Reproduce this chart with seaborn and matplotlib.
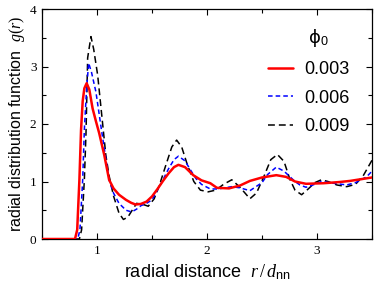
import numpy as np
import pandas as pd
import matplotlib
matplotlib.use("Agg")
import matplotlib.pyplot as plt
import seaborn as sns
from matplotlib.ticker import MultipleLocator

# g(r), one list pair per volume fraction
r_003 = [0.50, 0.80, 0.82, 0.84, 0.855, 0.87, 0.885, 0.906, 0.93, 0.96, 0.99, 1.02, 1.066,
         1.11, 1.15, 1.20, 1.264, 1.31, 1.35, 1.40, 1.45, 1.50, 1.55, 1.60, 1.65, 1.70,
         1.74, 1.80, 1.875, 1.95, 2.03, 2.09, 2.20, 2.30, 2.39, 2.50, 2.63, 2.72, 2.80,
         2.90, 3.06, 3.20, 3.30, 3.40, 3.50]
g_003 = [0.00, 0.00, 0.16, 1.03, 1.90, 2.40, 2.62, 2.71, 2.60, 2.27, 2.05, 1.84, 1.46,
         1.03, 0.88, 0.77, 0.68, 0.63, 0.60, 0.61, 0.65, 0.74, 0.87, 1.01, 1.14, 1.25,
         1.29, 1.25, 1.11, 1.02, 0.97, 0.89, 0.88, 0.93, 1.01, 1.07, 1.11, 1.08, 1.00,
         0.96, 0.97, 0.99, 1.01, 1.04, 1.07]

r_006 = [0.50, 0.825, 0.845, 0.87, 0.885, 0.905, 0.924, 0.95, 0.99, 1.045, 1.075, 1.11,
         1.15, 1.20, 1.264, 1.315, 1.36, 1.40, 1.45, 1.50, 1.55, 1.60, 1.65, 1.70, 1.74,
         1.80, 1.85, 1.90, 1.95, 2.03, 2.10, 2.225, 2.30, 2.39, 2.50, 2.55, 2.63, 2.70,
         2.80, 2.845, 2.90, 2.95, 3.04, 3.15, 3.27, 3.35, 3.45, 3.50]
g_006 = [0.00, 0.00, 0.16, 1.03, 1.90, 2.60, 3.06, 2.90, 2.56, 1.84, 1.46, 1.03,
         0.80, 0.62, 0.50, 0.47, 0.52, 0.58, 0.62, 0.68, 0.85, 1.03, 1.22, 1.38, 1.44,
         1.36, 1.20, 1.05, 0.95, 0.87, 0.87, 0.91, 0.89, 0.84, 0.98, 1.12, 1.25, 1.18,
         1.00, 0.94, 0.90, 0.93, 1.00, 0.97, 0.94, 0.98, 1.08, 1.18]

r_009 = [0.50, 0.84, 0.86, 0.885, 0.90, 0.915, 0.945, 0.97, 1.006, 1.06, 1.08, 1.11,
         1.15, 1.20, 1.24, 1.28, 1.32, 1.36, 1.42, 1.466, 1.52, 1.57, 1.62, 1.68, 1.724,
         1.77, 1.82, 1.88, 1.94, 2.01, 2.08, 2.15, 2.225, 2.30, 2.39, 2.45, 2.52, 2.58,
         2.64, 2.70, 2.755, 2.80, 2.86, 2.92, 2.98, 3.04, 3.10, 3.18, 3.27, 3.35, 3.42,
         3.50]
g_009 = [0.00, 0.00, 0.16, 1.03, 1.84, 3.15, 3.52, 3.30, 2.85, 1.84, 1.46, 1.10,
         0.75, 0.45, 0.34, 0.38, 0.50, 0.62, 0.60, 0.57, 0.70, 0.95, 1.25, 1.60, 1.72,
         1.60, 1.30, 1.00, 0.85, 0.82, 0.85, 0.95, 1.03, 0.90, 0.70, 0.80, 1.10, 1.38,
         1.47, 1.35, 1.03, 0.85, 0.77, 0.87, 0.98, 1.03, 1.00, 0.94, 0.91, 0.95, 1.10,
         1.37]

labels = ["0.003", "0.006", "0.009"]

sns.set_style("ticks", {"axes.labelcolor": "black", "text.color": "black",
                        "xtick.color": "black", "ytick.color": "black",
                        "axes.edgecolor": "black"})
plt.rcParams["font.family"] = ["Liberation Sans", "DejaVu Sans"]
plt.rcParams["mathtext.fontset"] = "custom"
plt.rcParams["mathtext.rm"] = "Liberation Serif"
plt.rcParams["mathtext.it"] = "Liberation Serif:italic"
plt.rcParams["mathtext.sf"] = "Liberation Sans"

fig = plt.figure(figsize=(3.74, 2.84), dpi=100)
ax = fig.add_axes([42 / 374, 45 / 284, 330 / 374, 230 / 284])

# (r, g, colour, dashes, linewidth, zorder)
series = [(r_003, g_003, "#ff0000", "", 1.8, 4),
          (r_006, g_006, "#0000ff", (3, 2), 1.1, 3),
          (r_009, g_009, "#000000", (4.5, 2.6), 1.1, 2)]
for (r, g, col, dash, lw, z), lab in zip(series, labels):
    df = pd.DataFrame({"r": r, "g": g})
    sns.lineplot(data=df, x="r", y="g", color=col, lw=lw, label=lab, zorder=z, ax=ax)
    if dash:
        ax.lines[-1].set_dashes(dash)

ax.set_xlim(0.5, 3.5)
ax.set_ylim(0, 4)
ax.xaxis.set_major_locator(MultipleLocator(1))
ax.xaxis.set_minor_locator(MultipleLocator(0.5))
ax.yaxis.set_major_locator(MultipleLocator(1))
ax.yaxis.set_minor_locator(MultipleLocator(0.5))
ax.tick_params(which="both", direction="in", top=True, right=True, width=0.8,
               labelsize=9.5, pad=4)
ax.tick_params(which="major", length=4)
ax.tick_params(which="minor", length=3)
for t in ax.get_xticklabels() + ax.get_yticklabels():
    t.set_fontfamily("Liberation Serif")
for s in ax.spines.values():
    s.set_linewidth(0.9)

ax.set_xlabel(r"radial distance  $r\,/\,d_{\mathsf{nn}}$", fontsize=13, labelpad=4)
ax.set_ylabel(r"radial distribution function  $g(r)$", fontsize=11.5, labelpad=2)

leg = ax.legend(loc="upper left", bbox_to_anchor=(0.685, 0.772), frameon=False,
                fontsize=13, handlelength=1.4, handletextpad=0.6,
                labelspacing=0.62, borderpad=0, borderaxespad=0)
ax.text(0.836, 0.874, "ϕ$_{\\mathsf{0}}$", transform=ax.transAxes, fontsize=13,
        ha="center", va="center", family=["DejaVu Sans"])

fig.savefig("out.png", dpi=100)
